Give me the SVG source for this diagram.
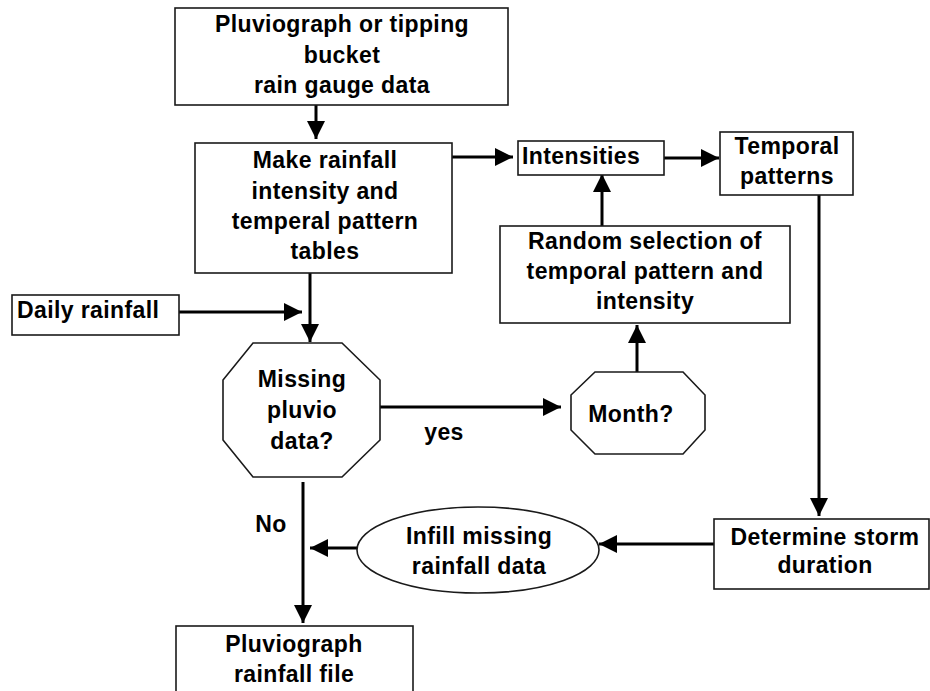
<svg xmlns="http://www.w3.org/2000/svg" width="930" height="691" viewBox="0 0 930 691">
<style>
.box{fill:#fff;stroke:#1a1a1a;stroke-width:1.6}
.t{font-family:"Liberation Sans",Arial,Helvetica,sans-serif;font-weight:bold;font-size:23px;letter-spacing:0.4px;fill:#000}
.c{text-anchor:middle}
.con{stroke:#000;stroke-width:3;fill:none;marker-end:url(#ah)}
</style>
<defs>
<marker id="ah" markerUnits="userSpaceOnUse" viewBox="0 0 18 18" refX="18" refY="9" markerWidth="18" markerHeight="18" orient="auto">
<path d="M0,0 L18,9 L0,18 z" fill="#000"/>
</marker>
</defs>
<rect width="930" height="691" fill="#fff"/>
<g id="connectors">
<line class="con" x1="316" y1="105" x2="316" y2="139"/>
<line class="con" x1="452" y1="157" x2="513" y2="157"/>
<line class="con" x1="664" y1="158" x2="719" y2="158"/>
<line class="con" x1="310" y1="273" x2="310" y2="342"/>
<line class="con" x1="179" y1="312" x2="302" y2="312"/>
<line class="con" x1="380" y1="407" x2="561" y2="407"/>
<line class="con" x1="637" y1="372" x2="637" y2="325"/>
<line class="con" x1="602" y1="226" x2="602" y2="174"/>
<line class="con" x1="819" y1="195" x2="819" y2="516"/>
<line class="con" x1="714" y1="544" x2="599" y2="544"/>
<line class="con" x1="357" y1="548" x2="310" y2="548"/>
<line class="con" x1="303" y1="482" x2="303" y2="623"/>
</g>
<g id="n-pluvio-data">
<rect class="box" x="175" y="8" width="333" height="97"/>
<text class="t c" x="342" y="32">Pluviograph or tipping</text>
<text class="t c" x="342" y="63">bucket</text>
<text class="t c" x="342" y="93">rain gauge data</text>
</g>
<g id="n-make-tables">
<rect class="box" x="195" y="143" width="257" height="130"/>
<text class="t c" x="325" y="168">Make rainfall</text>
<text class="t c" x="325" y="199">intensity and</text>
<text class="t c" x="325" y="229">temperal pattern</text>
<text class="t c" x="325" y="259">tables</text>
</g>
<g id="n-daily">
<rect class="box" x="12" y="295" width="167" height="40"/>
<text class="t" x="17" y="318">Daily rainfall</text>
</g>
<g id="n-missing">
<polygon class="box" points="253,343 342,343 380,380 380,440 342,477 253,477 223,440 223,380"/>
<text class="t c" x="302" y="387">Missing</text>
<text class="t c" x="302" y="418">pluvio</text>
<text class="t c" x="302" y="449">data?</text>
</g>
<g id="n-month">
<polygon class="box" points="595,372 683,372 705,395 705,430 683,454 595,454 571,430 571,395"/>
<text class="t c" x="631" y="422">Month?</text>
</g>
<g id="n-random">
<rect class="box" x="500" y="226" width="290" height="97"/>
<text class="t c" x="645" y="249">Random selection of</text>
<text class="t c" x="645" y="279">temporal pattern and</text>
<text class="t c" x="645" y="309">intensity</text>
</g>
<g id="n-intensities">
<rect class="box" x="518" y="141" width="146" height="34"/>
<text class="t" x="522" y="164">Intensities</text>
</g>
<g id="n-temporal">
<rect class="box" x="720" y="132" width="133" height="63"/>
<text class="t c" x="787" y="154">Temporal</text>
<text class="t c" x="787" y="184">patterns</text>
</g>
<g id="n-determine">
<rect class="box" x="714" y="519" width="215" height="70"/>
<text class="t c" x="825" y="545">Determine storm</text>
<text class="t c" x="825" y="573">duration</text>
</g>
<g id="n-infill">
<ellipse class="box" cx="478" cy="550" rx="121" ry="43"/>
<text class="t c" x="479" y="544">Infill missing</text>
<text class="t c" x="479" y="574">rainfall data</text>
</g>
<g id="n-output">
<rect class="box" x="176" y="626" width="237" height="80"/>
<text class="t c" x="294" y="652">Pluviograph</text>
<text class="t c" x="294" y="682">rainfall file</text>
</g>
<g id="labels">
<text class="t c" x="444" y="440">yes</text>
<text class="t c" x="271" y="532">No</text>
</g>
</svg>
